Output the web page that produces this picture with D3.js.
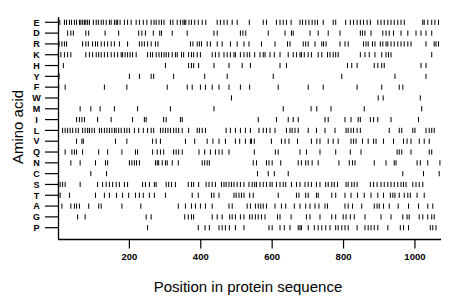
<!DOCTYPE html>
<html>
<head>
<meta charset="utf-8">
<script src="https://cdn.jsdelivr.net/npm/d3@7"></script>
<style>
  body { margin: 0; background: #fff; }
  svg { display: block; font-family: "Liberation Sans", Arial, sans-serif; }
</style>
</head>
<body>
<svg id="chart"></svg>
<script>
// amino acids, top to bottom
const aminoAcids = ["E", "D", "R", "K", "H", "Y", "F", "W", "M", "I", "L", "V", "Q", "N", "C", "S", "T", "A", "G", "P"];

// residue positions
const posE = [5,18,24,32,38,46,52,60,64,69,74,78,83,88,99,107,113,121,127,135,144,149,158,163,167,174,186,195,205,219,228,239,249,261,269,275,283,290,297,315,322,334,343,350,354,358,367,374,383,393,404,414,446,455,465,474,488,502,536,575,584,612,622,631,640,653,678,685,694,703,712,720,727,743,771,778,806,819,828,838,847,856,866,875,896,905,914,924,933,942,952,961,970,1022,1026,1036,1047,1056,1066];
const posD = [27,36,43,78,86,132,170,226,235,245,267,285,290,320,362,437,446,511,518,526,589,636,654,659,706,729,757,790,847,853,860,877,910,919,928,940,961,980,1003,1017,1031,1047];
const posR = [3,11,18,24,69,78,85,97,105,111,121,130,139,149,158,172,195,228,235,242,251,261,273,280,371,378,390,396,402,418,427,446,460,483,502,521,535,570,608,643,650,687,694,701,720,739,744,751,790,804,813,856,863,869,881,888,903,910,919,924,933,942,952,961,970,980,989,1031,1054,1059,1066];
const posK = [1,8,18,27,36,78,88,97,107,114,121,130,139,149,158,167,177,181,188,195,202,209,219,251,259,265,275,283,290,297,303,310,320,329,334,346,352,366,374,380,390,399,432,441,451,465,474,483,493,497,511,521,530,537,551,566,575,580,594,606,622,645,659,668,678,682,690,701,710,729,739,755,762,771,778,785,847,860,872,888,907,919,926,933,1047];
const posH = [15,301,366,374,380,394,437,479,516,539,622,640,811,823,838,886,896,907,914,1017,1031];
const posY = [3,200,228,261,268,324,411,474,603,795,944,1031];
const posF = [2,20,130,193,306,362,376,399,413,432,451,479,511,537,617,701,743,838,907,956,966];
const posW = [486,897,911,1015];
const posM = [62,92,118,158,223,315,437,631,709,725,765,858,1019];
const posI = [52,60,67,74,111,149,209,242,247,296,303,343,348,561,612,645,659,673,748,757,804,821,841,847,875,884,896,933,1010];
const posL = [13,20,27,34,41,50,57,69,76,83,88,95,102,116,122,130,137,144,151,158,163,170,177,186,193,200,214,226,239,251,261,268,287,294,301,308,315,324,331,338,348,366,390,396,404,413,471,483,497,511,525,539,563,575,584,594,608,640,650,656,664,673,701,724,748,776,807,813,821,828,838,847,928,956,963,994,1000,1031,1040,1047,1054];
const posV = [52,67,71,161,193,265,275,287,357,383,418,434,451,469,497,509,525,539,542,550,598,626,636,647,671,710,725,734,757,771,785,821,828,835,853,869,884,891,912,940,968,978,989,1012,1026,1040];
const posQ = [20,39,46,52,69,114,139,179,217,223,265,278,287,296,324,331,338,348,395,411,427,441,451,460,479,550,609,617,678,696,734,778,819,849,950,956,963,989,1040,1047];
const posN = [36,62,105,133,139,200,207,214,220,228,273,278,282,292,301,306,320,337,404,411,418,424,547,556,584,591,600,624,673,682,694,701,712,729,787,816,825,832,886,919,942,947,1006,1015,1036,1070];
const posC = [92,136,559,589,606,645,966,1024,1068];
const posS = [1,6,13,20,62,111,125,135,144,153,163,172,186,195,237,245,256,270,275,303,310,318,329,365,374,380,394,415,423,432,441,458,465,471,479,486,493,502,511,521,535,544,551,556,566,575,584,594,600,612,622,631,638,654,668,678,692,701,710,724,734,750,757,767,774,783,807,813,823,830,838,875,884,894,905,914,924,933,942,952,961,968,975,994,1003,1012,1022];
const posT = [1,6,32,105,130,144,164,181,198,217,228,239,256,270,301,376,393,430,437,451,493,499,507,514,521,537,547,617,668,675,694,701,724,729,767,778,804,821,839,858,877,896,912,931,938,944,956,970,980,987,1006,1026];
const posA = [11,36,46,52,60,86,114,121,179,232,337,357,374,385,399,413,432,479,488,530,539,553,561,568,575,584,608,626,638,662,678,694,706,720,731,748,755,804,813,825,851,886,894,900,912,928,953,982,1010,1036,1050];
const posG = [55,76,247,261,355,365,374,380,432,446,460,481,488,497,511,521,537,544,553,561,570,580,615,622,653,696,706,734,767,778,799,807,819,830,860,905,933,966,978,984,1012,1022,1036,1047,1054];
const posP = [251,393,412,424,451,460,469,480,497,521,591,600,622,634,650,673,678,682,701,718,729,739,750,762,778,785,795,804,813,838,860,869,877,886,896,924,959,968,982,1043,1050,1059];

const xTicks = [200, 400, 600, 800, 1000];
const seqLength = 1073;

const positions = {
  E: posE, D: posD, R: posR, K: posK, H: posH, Y: posY, F: posF, W: posW, M: posM, I: posI,
  L: posL, V: posV, Q: posQ, N: posN, C: posC, S: posS, T: posT, A: posA, G: posG, P: posP
};

const W = 460, H = 299;
const margin = { top: 17, right: 19, bottom: 60, left: 58 };
const plotBottom = H - margin.bottom + 0.5;

const svg = d3.select("#chart").attr("width", W).attr("height", H);
svg.append("rect").attr("width", W).attr("height", H).attr("fill", "#fff");

const x = d3.scaleLinear().domain([0, seqLength]).range([margin.left, W - margin.right]);
const y = d3.scalePoint().domain(aminoAcids).range([22.3, 227.7]);

// residue marks
aminoAcids.forEach((aa) => {
  svg.append("g")
    .selectAll("line")
    .data(positions[aa])
    .join("line")
    .attr("x1", (d) => x(d))
    .attr("x2", (d) => x(d))
    .attr("y1", y(aa) - 2.6)
    .attr("y2", y(aa) + 2.6)
    .attr("stroke", "#000")
    .attr("stroke-width", 1);
});

// left axis
svg.append("line")
  .attr("x1", margin.left + 0.5).attr("x2", margin.left + 0.5)
  .attr("y1", margin.top).attr("y2", plotBottom)
  .attr("stroke", "#000").attr("stroke-width", 1.3);

const yAxis = svg.append("g");
aminoAcids.forEach((aa) => {
  yAxis.append("line")
    .attr("x1", 45).attr("x2", margin.left)
    .attr("y1", y(aa)).attr("y2", y(aa))
    .attr("stroke", "#000").attr("stroke-width", 1.2);
  yAxis.append("text")
    .attr("x", 36.5).attr("y", y(aa))
    .attr("dy", "0.36em")
    .attr("text-anchor", "middle")
    .attr("font-size", "9px")
    .attr("font-weight", "bold")
    .text(aa);
});

// bottom axis
svg.append("line")
  .attr("x1", margin.left).attr("x2", x(seqLength))
  .attr("y1", plotBottom).attr("y2", plotBottom)
  .attr("stroke", "#000").attr("stroke-width", 1.3);

const xAxis = svg.append("g");
xTicks.forEach((t) => {
  xAxis.append("line")
    .attr("x1", x(t)).attr("x2", x(t))
    .attr("y1", plotBottom).attr("y2", plotBottom + 9)
    .attr("stroke", "#000").attr("stroke-width", 1.2);
  xAxis.append("text")
    .attr("x", x(t)).attr("y", 257)
    .attr("dy", "0.36em")
    .attr("text-anchor", "middle")
    .attr("font-size", "9.5px")
    .attr("font-weight", "bold")
    .text(t);
});

svg.append("text")
  .attr("x", 248).attr("y", 287)
  .attr("dy", "0.36em")
  .attr("text-anchor", "middle")
  .attr("font-size", "15px")
  .text("Position in protein sequence");

svg.append("text")
  .attr("transform", "translate(18,127) rotate(-90)")
  .attr("dy", "0.36em")
  .attr("text-anchor", "middle")
  .attr("font-size", "15px")
  .text("Amino acid");
</script>
</body>
</html>
